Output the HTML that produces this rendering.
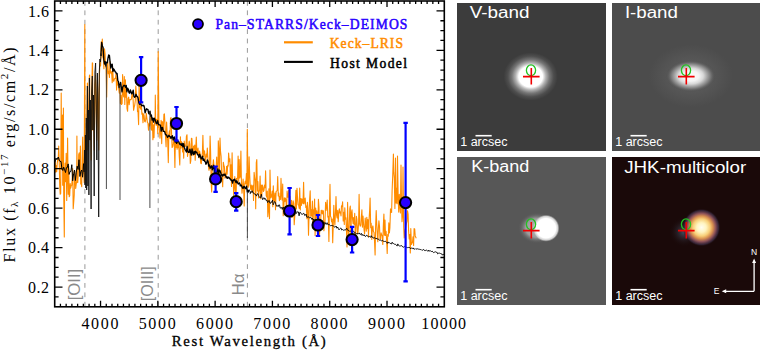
<!DOCTYPE html>
<html><head><meta charset="utf-8"><style>
html,body{margin:0;padding:0;background:#fff;width:760px;height:350px;overflow:hidden}
.chart{position:absolute;left:0;top:0}
.pn{position:absolute;overflow:hidden}
.pn svg{display:block}
</style></head><body>
<svg class="chart" width="760" height="350" viewBox="0 0 760 350">
<g stroke="#9a9a9a" stroke-width="1" stroke-dasharray="4.8 4.6" fill="none">
<path d="M84.9 1V306M158.2 1V306M247.4 1V306"/>
</g>
<g fill="#8a8a8a" font-family="'Liberation Sans', sans-serif" font-size="17">
<text transform="translate(80.3 300.3) rotate(-90)" textLength="31.5" lengthAdjust="spacingAndGlyphs">[OII]</text>
<text transform="translate(153.2 301.3) rotate(-90)" textLength="35" lengthAdjust="spacingAndGlyphs">[OIII]</text>
<text transform="translate(244.4 295.6) rotate(-90)">H&#945;</text>
</g>
<path d="M54.7,172.5 55.2,159.2 55.7,172.1 56.2,165.6 56.7,171.8 57.2,163.5 57.7,159.8 58.2,160.1 58.7,146.0 59.2,160.8 59.7,185.1 60.2,194.3 60.7,193.5 61.2,93.0 61.7,169.1 62.2,148.6 62.5,115.0 62.7,185.3 63.4,108.0 63.7,192.8 64.3,237.0 64.7,173.6 65.2,163.0 65.7,181.7 66.2,153.3 66.7,200.5 67.2,170.0 67.6,138.0 68.2,194.3 68.7,166.1 69.2,196.7 69.7,195.8 70.2,183.5 70.7,188.1 71.2,185.9 71.7,185.3 72.2,178.8 72.7,168.5 73.2,208.8 73.7,202.2 74.2,195.2 74.7,170.6 75.2,176.8 75.7,188.5 76.2,184.1 76.7,181.6 76.9,136.0 77.2,181.0 77.7,182.6 78.2,175.8 78.7,154.6 79.2,152.9 79.7,169.4 80.2,158.4 80.4,146.0 80.7,183.9 81.2,182.1 81.7,186.7 82.2,156.4 82.7,137.1 83.2,173.3 83.7,172.0 84.2,182.5 84.2,175.0 84.8,24.6 85.2,180.0 85.8,140.0 86.3,170.0 86.8,120.0 87.4,83.0 87.9,150.0 88.6,120.0 89.4,75.7 89.7,75.0 90.0,140.0 90.6,110.0 91.2,160.0 91.8,90.0 92.3,62.9 92.6,63.0 92.8,130.0 93.5,100.0 94.2,150.0 94.8,85.0 95.5,75.0 96.1,110.0 96.8,140.0 97.4,80.0 98.0,100.0 98.7,150.0 99.4,75.0 100.0,62.0 100.6,66.0 101.2,41.9 101.8,50.4 102.3,39.0 102.8,57.0 103.4,58.7 103.9,68.7 104.5,48.8 105.1,54.0 105.6,67.1 106.1,65.4 106.7,97.1 107.2,67.9 107.8,62.1 108.3,73.8 108.9,71.4 109.4,77.5 110.0,61.6 110.5,72.3 111.1,73.6 111.6,71.6 112.2,82.6 112.7,67.8 113.3,81.0 113.8,81.2 114.4,79.0 114.9,78.3 115.5,78.4 116.0,73.7 116.6,90.1 117.1,78.6 117.7,85.0 118.2,82.5 118.8,89.5 119.3,93.2 119.9,86.1 120.4,103.6 121.0,95.4 121.5,104.5 122.1,103.4 122.6,74.6 123.2,93.8 123.7,97.0 124.3,76.6 124.8,104.5 125.4,79.8 125.9,97.2 126.5,91.8 127.0,108.5 127.6,111.3 128.1,98.2 128.7,97.2 129.2,104.6 129.8,99.8 130.3,99.6 130.9,99.7 131.4,99.0 132.0,93.5 132.5,94.3 133.1,99.7 133.6,110.3 134.2,106.9 134.7,105.3 135.3,100.8 135.8,86.0 136.4,93.8 136.9,97.0 137.5,111.6 138.0,111.2 138.6,124.6 139.1,84.2 139.7,107.7 140.2,106.6 140.8,109.3 141.3,103.1 141.9,114.2 142.4,113.1 143.0,122.7 143.5,113.7 144.1,115.5 144.6,121.3 145.2,121.9 145.7,119.4 146.3,113.4 146.8,117.9 147.4,122.4 147.9,122.9 148.5,130.1 149.0,123.9 149.6,125.9 150.1,120.9 150.7,113.9 151.2,129.0 151.8,130.2 152.3,117.9 152.9,139.7 153.4,124.9 154.0,137.6 154.5,122.1 155.1,119.5 155.3,95.0 155.6,120.3 156.2,125.5 156.7,119.2 157.3,119.9 157.8,133.7 158.2,51.6 158.9,121.6 159.5,130.5 160.0,138.3 160.6,130.4 161.1,120.2 161.7,143.6 162.2,121.5 162.8,123.6 163.3,131.1 163.9,114.4 164.4,113.8 165.0,124.2 165.5,136.5 166.1,146.8 166.6,122.0 167.2,134.1 167.7,141.3 168.3,162.6 168.8,135.4 169.4,130.8 169.9,138.1 170.5,118.5 171.0,117.6 171.6,133.9 172.1,147.4 172.7,146.6 173.2,143.9 173.8,137.5 174.3,143.1 174.9,167.4 175.4,138.6 176.0,147.4 176.5,138.9 177.1,149.2 177.6,139.8 178.2,147.6 178.7,142.7 179.3,157.0 179.8,164.9 180.4,136.7 180.9,148.2 181.5,141.6 182.0,143.8 182.6,151.9 183.1,145.4 183.7,158.1 184.2,141.0 184.8,145.8 185.3,146.4 185.9,145.9 186.4,136.5 187.0,134.7 187.5,156.4 188.1,152.3 188.6,146.4 189.2,141.0 189.7,144.0 190.3,163.5 190.8,161.0 191.4,138.2 191.9,138.4 192.5,151.8 193.0,155.7 193.6,146.1 194.1,149.3 194.7,145.1 195.2,160.3 195.8,146.6 196.3,137.0 196.9,153.5 197.4,153.3 198.0,148.1 198.5,154.4 199.1,158.0 199.6,151.1 200.2,154.5 200.7,163.2 201.3,163.7 201.8,158.0 202.4,152.5 202.9,135.2 203.5,156.8 204.0,150.4 204.6,151.6 205.1,160.4 205.7,160.1 206.2,154.0 206.8,157.0 207.3,148.0 207.9,158.0 208.4,166.1 209.0,170.3 209.5,168.2 210.1,136.1 210.6,151.7 211.2,183.3 211.7,191.9 212.3,165.2 212.8,167.1 213.4,159.9 213.9,164.7 214.5,167.6 215.0,172.0 215.6,168.8 216.1,168.4 216.7,157.0 217.2,170.9 217.8,182.2 218.3,140.8 218.9,151.2 219.4,175.2 220.0,138.0 220.5,151.1 221.1,156.4 221.6,174.0 222.2,175.6 222.7,186.8 223.3,162.2 223.8,165.1 224.4,166.9 224.9,178.1 225.5,173.0 226.0,176.3 226.6,166.3 227.1,174.2 227.7,165.4 228.2,166.1 228.6,153.0 229.3,161.7 229.9,158.7 230.4,178.7 231.0,164.9 231.5,186.4 232.1,152.8 232.6,178.4 233.2,179.7 233.7,195.3 234.3,187.6 234.8,176.6 235.4,188.6 235.9,204.9 236.5,178.3 237.0,180.2 237.6,177.7 238.1,156.0 238.7,181.8 239.2,159.5 239.8,178.0 240.3,176.6 240.9,151.1 241.4,181.1 242.0,193.2 242.5,187.6 243.1,179.0 243.6,187.3 244.2,205.9 244.7,183.9 245.3,181.2 245.8,184.0 246.4,173.6 246.9,186.2 247.3,129.3 248.0,187.7 248.6,185.3 249.1,156.8 249.7,175.2 250.2,185.2 250.8,189.4 251.3,185.0 251.9,190.9 252.4,186.8 253.0,185.2 253.5,200.5 254.1,172.4 254.6,177.1 255.2,180.9 255.7,208.8 256.3,162.6 256.8,159.6 257.4,190.9 257.9,181.5 258.5,197.9 259.0,191.7 259.6,190.0 260.1,176.0 260.7,198.7 261.2,185.0 261.8,195.6 262.3,185.0 262.9,187.1 263.4,191.4 264.0,190.2 264.5,185.1 265.1,187.8 265.6,170.9 266.2,195.5 266.7,197.2 267.3,191.0 267.8,216.7 268.4,210.5 268.9,188.8 269.5,218.6 270.0,170.0 270.6,197.9 271.1,197.4 271.7,194.7 272.2,191.0 272.8,206.7 273.3,185.9 273.9,199.1 274.4,201.3 275.0,193.1 275.5,209.8 276.1,191.4 276.6,191.2 277.2,190.3 277.7,176.6 278.3,195.9 278.8,193.1 279.4,200.7 279.9,196.6 280.5,199.5 281.0,178.4 281.6,195.0 282.1,200.1 282.7,184.0 283.2,215.8 283.8,206.9 284.3,197.7 284.9,201.4 285.4,198.0 286.0,200.9 286.5,213.5 287.1,191.1 287.6,197.2 288.2,196.9 288.7,190.1 289.3,205.9 289.8,196.4 290.4,208.7 290.9,214.2 291.5,200.3 292.0,217.5 292.6,205.8 293.1,200.7 293.7,203.4 294.2,224.7 294.8,215.7 295.3,203.8 295.9,190.2 296.4,208.9 297.0,188.3 297.5,197.0 298.1,204.7 298.6,204.7 299.2,208.4 299.7,188.0 300.3,210.0 300.8,198.5 301.4,205.4 301.9,198.9 302.5,201.3 303.0,203.7 303.6,182.2 304.1,203.9 304.7,200.7 305.2,198.1 305.8,207.5 306.3,206.0 306.9,218.8 307.4,202.4 308.0,210.6 308.5,235.3 309.1,213.5 309.6,199.7 310.2,190.7 310.7,216.2 311.3,209.7 311.8,216.2 312.4,201.0 312.9,228.1 313.5,209.7 314.0,213.9 314.6,199.0 315.1,235.6 315.7,208.0 316.2,218.0 316.8,210.8 317.3,215.9 317.9,224.3 318.4,199.2 319.0,207.3 319.5,235.2 320.1,221.0 320.6,222.3 321.2,210.2 321.7,210.8 322.3,213.9 322.8,210.4 323.4,211.1 323.9,230.8 324.5,222.4 325.0,221.2 325.6,202.2 326.1,210.5 326.7,206.5 327.2,200.1 327.8,217.1 328.3,216.3 328.9,241.5 329.4,210.3 330.0,184.4 330.5,216.3 331.1,217.6 331.6,221.9 332.2,219.1 332.7,242.7 333.3,224.1 333.8,205.3 334.4,219.9 334.9,225.1 335.5,211.8 336.0,196.5 336.6,215.4 337.1,218.0 337.7,210.2 338.2,221.8 338.8,213.8 339.3,208.7 339.9,212.9 340.4,212.0 341.0,215.9 341.5,205.7 342.1,206.5 342.6,201.7 343.2,221.0 343.7,212.3 344.3,224.4 344.8,207.7 345.4,219.2 345.9,217.7 346.5,231.3 347.0,246.9 347.6,202.4 348.1,227.7 348.7,234.7 349.2,226.8 349.8,208.5 350.3,206.0 350.9,235.0 351.4,213.2 352.0,209.9 352.5,218.8 353.1,223.6 353.6,217.6 354.2,224.4 354.7,213.4 355.3,236.4 355.8,230.1 356.4,216.4 356.9,219.5 357.5,234.0 358.0,231.9 358.6,222.9 359.1,194.4 359.7,224.4 360.2,226.2 360.8,225.3 361.3,218.2 361.9,209.8 362.4,227.1 363.0,216.1 363.5,223.2 364.1,230.2 364.6,234.0 365.2,218.0 365.7,223.9 366.3,231.1 366.8,217.2 367.4,228.8 367.9,219.5 368.5,236.9 369.0,220.9 369.6,211.1 370.1,198.0 370.7,227.7 371.2,223.3 371.8,239.4 372.3,227.7 372.9,225.9 373.4,231.5 374.0,232.4 374.5,240.6 375.1,254.9 375.6,227.3 376.2,210.5 376.7,223.2 377.3,234.5 377.8,241.7 378.4,227.8 378.9,220.7 379.5,226.3 380.0,238.9 380.6,239.1 381.1,232.8 381.7,235.1 382.2,235.2 382.8,244.5 383.3,226.3 383.9,214.1 384.4,235.3 385.0,220.1 385.5,235.4 386.1,231.2 386.6,239.7 387.2,253.5 387.7,234.5 388.3,236.2 388.8,222.9 389.4,233.0 389.9,227.7 390.5,208.9 391.0,212.0 391.6,212.4 392.1,191.3 392.7,176.1 393.4,154.0 393.8,172.4 394.3,178.4 394.9,208.4 395.5,158.0 396.0,202.9 396.5,188.4 397.1,203.8 397.5,156.0 398.2,198.3 398.7,212.1 399.3,194.3 399.8,206.1 400.4,213.0 401.0,165.0 401.5,202.5 402.0,221.7 402.6,215.4 403.0,167.0 403.7,227.0 404.2,237.9 404.8,232.0 405.3,229.7 405.9,225.3 406.4,223.7 407.0,221.1 407.5,210.7 408.1,214.0 408.6,230.9 409.2,239.0 409.7,234.5 410.3,252.9 410.8,228.6 411.4,244.4 411.9,243.3 412.5,242.1 413.0,236.7 413.6,245.5 414.1,228.6 414.7,229.0 415.2,235.9 415.8,237.2 416.3,238.2" fill="none" stroke="#ff8c00" stroke-width="1.1" stroke-linejoin="round"/>
<path d="M54.7,162.5 55.6,159.6 56.5,159.0 57.4,158.6 58.3,157.0 59.2,159.5 60.1,161.6 61.0,161.4 61.9,168.7 62.8,170.5 63.7,167.1 64.6,169.8 65.5,172.5 66.4,167.7 67.3,167.5 68.2,163.9 69.1,174.4 70.0,171.6 70.9,171.3 71.8,164.7 72.7,180.8 73.6,173.8 74.5,170.0 75.4,180.5 76.3,172.1 77.2,166.2 78.1,169.5 79.0,159.7 79.9,176.5 80.8,171.7 81.7,170.0 82.6,177.2 83.5,163.7 84.2,172.0" fill="none" stroke="#000" stroke-width="1" stroke-linejoin="round"/>
<path d="M84.2,172.0 84.6,150.0 85.0,185.0 85.4,135.0 85.8,188.0 86.3,118.0 86.7,190.0 87.4,86.0 87.9,186.0 88.4,110.0 88.9,195.0 89.4,78.0 89.9,140.0 90.4,100.0 91.1,209.0 91.6,92.0 92.3,76.0 92.9,130.0 93.5,95.0 94.2,196.0 94.9,72.0 95.6,63.0 96.2,100.0 96.8,160.0 97.4,73.0 97.9,95.0 98.7,217.0 99.3,72.0 99.9,59.0 100.4,62.0 101.0,56.0 101.0,53.4" fill="none" stroke="#111" stroke-width="0.9" stroke-linejoin="miter" stroke-miterlimit="2"/>
<path d="M101.0,56.0 101.0,53.4 101.7,42.5 102.4,45.9 103.1,47.6 103.8,59.3 104.5,64.0 105.2,61.6 105.9,65.9 106.6,62.3 107.3,62.8 108.0,58.1 108.7,55.0 109.4,55.3 110.1,62.1 110.8,68.1 111.5,64.7 112.2,64.1 112.9,71.5 113.6,68.8 114.3,69.8 115.0,71.6 115.7,72.1 116.4,73.7 117.1,73.4 117.8,80.5 118.5,81.8 119.2,87.6 119.9,85.5 120.6,82.4 121.3,87.2 122.0,91.9 122.7,87.1 123.4,86.0 124.1,85.3 124.8,85.6 125.5,87.3 126.2,85.4 126.9,91.8 127.6,88.2 128.3,89.4 129.0,92.7 129.7,93.2 130.4,90.0 131.1,92.1 131.8,93.9 132.5,92.7 133.2,90.1 133.9,96.3 134.6,97.3 135.3,96.8 136.0,94.3 136.7,96.4 137.4,96.4 138.1,98.1 138.8,102.7 139.5,104.3 140.2,103.6 140.9,104.4 141.6,105.8 142.3,105.3 143.0,105.8 143.7,105.3 144.4,107.3 145.1,112.9 145.8,110.6 146.5,108.8 147.2,109.3 147.9,109.4 148.6,113.0 149.3,114.0 150.0,111.2 150.7,116.2 151.4,115.0 152.1,120.1 152.8,118.1 153.5,122.1 154.2,118.2 154.9,119.3 155.6,121.2 156.3,123.6 157.0,123.4 157.7,120.6 158.4,124.4 159.1,124.9 159.8,124.9 160.5,125.3 161.2,131.1 161.9,127.6 162.6,127.5 163.3,131.4 164.0,131.3 164.7,131.8 165.4,134.4 166.1,134.8 166.8,135.5 167.5,137.3 168.2,136.5 168.9,135.3 169.6,136.4 170.3,136.6 171.0,138.6 171.7,136.6 172.4,135.7 173.1,140.0 173.8,137.7 174.5,137.0 175.2,142.1 175.9,140.5 176.6,143.4 177.3,141.9 178.0,141.3 178.7,141.6 179.4,143.5 180.1,144.5 180.8,143.9 181.5,145.4 182.2,143.3 182.9,146.8 183.6,143.7 184.3,147.2 185.0,149.3 185.7,150.5 186.4,152.1 187.1,146.3 187.8,151.1 188.5,152.4 189.2,152.4 189.9,149.2 190.6,152.0 191.3,155.0 192.0,149.0 192.7,153.0 193.4,154.5 194.1,151.3 194.8,154.0 195.5,151.3 196.2,152.2 196.9,152.6 197.6,154.9 198.3,154.8 199.0,157.2 199.7,154.1 200.4,156.2 201.1,158.9 201.8,158.8 202.5,156.1 203.2,160.4 203.9,159.0 204.6,161.3 205.3,161.8 206.0,164.2 206.7,162.9 207.4,160.0 208.1,161.6 208.8,166.1 209.5,165.0 210.2,168.2 210.9,167.2 211.6,165.9 212.3,169.8 213.0,167.0 213.7,165.3 214.4,173.2 215.1,166.7 215.8,171.6 216.5,172.6 217.2,171.6 217.9,168.8 218.6,173.9 219.3,170.1 220.0,170.6 220.7,172.8 221.4,175.2 222.1,174.8 222.8,176.1 223.5,174.3 224.2,175.2 224.9,174.0 225.6,175.8 226.3,177.8 227.0,176.7 227.7,178.4 228.4,177.1 229.1,177.5 229.8,178.9 230.5,178.9 231.2,180.5 231.9,180.1 232.6,183.0 233.3,180.0 234.0,180.2 234.7,179.1 235.4,181.3 236.1,182.8 236.8,180.8 237.5,182.4 238.2,184.1 238.9,183.1 239.6,182.9 240.3,185.8 241.0,185.0 241.7,186.0 242.4,187.8 243.1,188.4 243.8,186.5 244.5,186.7 245.2,188.6 245.9,188.5 246.6,186.2 247.3,191.9 248.0,190.4 248.7,192.1 249.4,189.6" fill="none" stroke="#000" stroke-width="1.35" stroke-linejoin="round"/>
<path d="M106.4 63.4V189.0M120.0 85.0V200.0M149.9 111.6V208.0M247.4 191.7V238.0" stroke="#3a3a3a" stroke-width="0.9" fill="none"/>
<path d="M250.1,194.1 250.8,191.4 251.5,192.4 252.2,190.7 252.9,192.9 253.6,193.1 254.3,193.4 255.0,194.7 255.7,194.4 256.4,196.1 257.1,194.1 257.8,193.6 258.5,195.4 259.2,196.6 259.9,197.8 260.6,197.6 261.3,194.2 262.0,197.8 262.7,199.7 263.4,198.1 264.1,197.7 264.8,199.3 265.5,198.6 266.2,200.6 266.9,200.1 267.6,202.5 268.3,201.7 269.0,200.4 269.7,202.7 270.4,203.5 271.1,201.8 271.8,202.3 272.5,200.1 273.2,204.8 273.9,203.2 274.6,201.5 275.3,202.3 276.0,204.7 276.7,206.3 277.4,205.6 278.1,206.6 278.8,204.9 279.5,204.9 280.2,208.1 280.9,207.9 281.6,207.5 282.3,209.4 283.0,207.0 283.7,207.9 284.4,210.0 285.1,211.2 285.8,209.2 286.5,211.4 287.2,208.9 287.9,210.2 288.6,209.8 289.3,208.4 290.0,210.7 290.7,211.7 291.4,210.7 292.1,210.9 292.8,212.8 293.5,210.0 294.2,209.9 294.9,211.0 295.6,210.6 296.3,213.5 297.0,212.6 297.7,211.5 298.4,212.0 299.1,215.8 299.8,212.3 300.5,212.4 301.2,213.8 301.9,214.4 302.6,214.3 303.3,213.4 304.0,213.4 304.7,215.5 305.4,215.2 306.1,214.1 306.8,217.2 307.5,217.2 308.2,216.7 308.9,217.1 309.6,218.0 310.3,217.5 311.0,217.4 311.7,219.3 312.4,218.1 313.1,220.2 313.8,219.0 314.5,220.6 315.2,221.0 315.9,222.9 316.6,220.7 317.3,220.7 318.0,221.7 318.7,221.6 319.4,222.3 320.1,223.4 320.8,223.8 321.5,224.6 322.2,222.9 322.9,225.6 323.6,225.3 324.3,223.7 325.0,222.3 325.7,224.1 326.4,224.3 327.1,222.7 327.8,224.6 328.5,224.6 329.2,224.3 329.9,225.4 330.6,225.9 331.3,225.2 332.0,226.0 332.7,225.6 333.4,225.8 334.1,226.7 334.8,227.3 335.5,226.8 336.2,226.0 336.9,228.2 337.6,227.0 338.3,228.4 339.0,229.8 339.7,228.9 340.4,228.3 341.1,228.2 341.8,230.1 342.5,229.5 343.2,230.0 343.9,230.4 344.6,229.9 345.3,229.9 346.0,229.6 346.7,228.3 347.4,229.5 348.1,230.6 348.8,230.6 349.5,231.2 350.2,231.0 350.9,231.4 351.6,232.0 352.3,231.1 353.0,231.7 353.7,231.1 354.4,232.9 355.1,232.6 355.8,233.0 356.5,233.9 357.2,233.8 357.9,233.3 358.6,234.1 359.3,232.9 360.0,234.3 360.7,234.3 361.4,233.4 362.1,235.5 362.8,234.4 363.5,235.5 364.2,235.0 364.9,236.1 365.6,236.5 366.3,235.4 367.0,235.2 367.7,236.2 368.4,237.0 369.1,236.5 369.8,236.6 370.5,237.4 371.2,235.7 371.9,237.2 372.6,237.0 373.3,238.2 374.0,237.8 374.7,237.8 375.4,238.4 376.1,238.0 376.8,239.0 377.5,238.9 378.2,239.2 378.9,239.3 379.6,240.4 380.3,240.0 381.0,240.6 381.7,240.8 382.4,240.3 383.1,241.2 383.8,241.3 384.5,241.5 385.2,241.3 385.9,241.5 386.6,242.4 387.3,243.4 388.0,241.9 388.7,242.9 389.4,242.6 390.1,243.5 390.8,243.5 391.5,244.0 392.2,242.2 392.9,243.5 393.6,243.6 394.3,244.2 395.0,244.1 395.7,244.4 396.4,245.3 397.1,246.1 397.8,243.9 398.5,245.4 399.2,245.9 399.9,246.0 400.6,245.9 401.3,245.6 402.0,245.9 402.7,246.9 403.4,247.2 404.1,246.9 404.8,246.5 405.5,247.1 406.2,247.1 406.9,247.7 407.6,247.6 408.3,247.4 409.0,247.9 409.7,247.4 410.4,248.5 411.1,248.7 411.8,247.7 412.5,248.6 413.2,248.0 413.9,249.1 414.6,249.1 415.3,248.7 416.0,249.4 416.7,248.8 417.4,248.8 418.1,248.9 418.8,249.3 419.5,249.3 420.2,249.6 420.9,249.4 421.6,250.1 422.3,250.3 423.0,249.7 423.7,249.4 424.4,250.5 425.1,250.8 425.8,250.3 426.5,249.9 427.2,250.7 427.9,251.4 428.6,250.0 429.3,251.1 430.0,250.9 430.7,250.8 431.4,251.6 432.1,251.0 432.8,251.9 433.5,252.6 434.2,252.3 434.9,252.0 435.6,251.8 436.3,252.3 437.0,252.2 437.7,253.9 438.4,253.3 439.1,253.1 439.8,253.2 440.5,253.5 441.2,254.0 441.9,253.8 442.6,255.2 443.3,254.4 444.0,254.6" fill="none" stroke="#000" stroke-width="0.9" stroke-linejoin="round"/>
<path d="M141.1 57.2V102.3M138.9 57.2h4.4M138.9 102.3h4.4M176.5 107.0V140.7M174.3 107.0h4.4M174.3 140.7h4.4M215.6 166.5V191.9M213.4 166.5h4.4M213.4 191.9h4.4M236.2 193.1V210.6M234.0 193.1h4.4M234.0 210.6h4.4M289.6 188.0V234.4M287.4 188.0h4.4M287.4 234.4h4.4M318.0 215.0V236.0M315.8 215.0h4.4M315.8 236.0h4.4M352.1 226.8V252.5M349.9 226.8h4.4M349.9 252.5h4.4M405.6 122.8V281.3M403.4 122.8h4.4M403.4 281.3h4.4" stroke="#0000ff" stroke-width="2.2" fill="none"/>
<g fill="#2800ff" stroke="#000" stroke-width="2"><circle cx="141.1" cy="80.3" r="5.6"/><circle cx="176.5" cy="123.5" r="5.6"/><circle cx="215.6" cy="178.9" r="5.6"/><circle cx="236.2" cy="201.7" r="5.6"/><circle cx="289.6" cy="211.0" r="5.6"/><circle cx="318.0" cy="225.0" r="5.6"/><circle cx="352.1" cy="239.6" r="5.6"/><circle cx="405.6" cy="202.6" r="5.6"/></g>
<rect x="54.7" y="1.0" width="389.6" height="305.8" fill="none" stroke="#000" stroke-width="1.6"/>
<path d="M54.7 296.94h3.9M444.3 296.94h-3.9M54.7 287.07h7.8M444.3 287.07h-7.8M54.7 277.21h3.9M444.3 277.21h-3.9M54.7 267.34h3.9M444.3 267.34h-3.9M54.7 257.48h3.9M444.3 257.48h-3.9M54.7 247.61h7.8M444.3 247.61h-7.8M54.7 237.75h3.9M444.3 237.75h-3.9M54.7 227.88h3.9M444.3 227.88h-3.9M54.7 218.02h3.9M444.3 218.02h-3.9M54.7 208.15h7.8M444.3 208.15h-7.8M54.7 198.29h3.9M444.3 198.29h-3.9M54.7 188.43h3.9M444.3 188.43h-3.9M54.7 178.56h3.9M444.3 178.56h-3.9M54.7 168.70h7.8M444.3 168.70h-7.8M54.7 158.83h3.9M444.3 158.83h-3.9M54.7 148.97h3.9M444.3 148.97h-3.9M54.7 139.10h3.9M444.3 139.10h-3.9M54.7 129.24h7.8M444.3 129.24h-7.8M54.7 119.37h3.9M444.3 119.37h-3.9M54.7 109.51h3.9M444.3 109.51h-3.9M54.7 99.65h3.9M444.3 99.65h-3.9M54.7 89.78h7.8M444.3 89.78h-7.8M54.7 79.92h3.9M444.3 79.92h-3.9M54.7 70.05h3.9M444.3 70.05h-3.9M54.7 60.19h3.9M444.3 60.19h-3.9M54.7 50.32h7.8M444.3 50.32h-7.8M54.7 40.46h3.9M444.3 40.46h-3.9M54.7 30.59h3.9M444.3 30.59h-3.9M54.7 20.73h3.9M444.3 20.73h-3.9M54.7 10.86h7.8M444.3 10.86h-7.8M60.43 306.8v-3.05M60.43 1.0v3.05M66.16 306.8v-3.05M66.16 1.0v3.05M71.89 306.8v-3.05M71.89 1.0v3.05M77.62 306.8v-3.05M77.62 1.0v3.05M83.35 306.8v-3.05M83.35 1.0v3.05M89.08 306.8v-3.05M89.08 1.0v3.05M94.81 306.8v-3.05M94.81 1.0v3.05M100.54 306.8v-6.10M100.54 1.0v6.10M106.26 306.8v-3.05M106.26 1.0v3.05M111.99 306.8v-3.05M111.99 1.0v3.05M117.72 306.8v-3.05M117.72 1.0v3.05M123.45 306.8v-3.05M123.45 1.0v3.05M129.18 306.8v-3.05M129.18 1.0v3.05M134.91 306.8v-3.05M134.91 1.0v3.05M140.64 306.8v-3.05M140.64 1.0v3.05M146.37 306.8v-3.05M146.37 1.0v3.05M152.10 306.8v-3.05M152.10 1.0v3.05M157.83 306.8v-6.10M157.83 1.0v6.10M163.56 306.8v-3.05M163.56 1.0v3.05M169.29 306.8v-3.05M169.29 1.0v3.05M175.02 306.8v-3.05M175.02 1.0v3.05M180.75 306.8v-3.05M180.75 1.0v3.05M186.48 306.8v-3.05M186.48 1.0v3.05M192.21 306.8v-3.05M192.21 1.0v3.05M197.94 306.8v-3.05M197.94 1.0v3.05M203.66 306.8v-3.05M203.66 1.0v3.05M209.39 306.8v-3.05M209.39 1.0v3.05M215.12 306.8v-6.10M215.12 1.0v6.10M220.85 306.8v-3.05M220.85 1.0v3.05M226.58 306.8v-3.05M226.58 1.0v3.05M232.31 306.8v-3.05M232.31 1.0v3.05M238.04 306.8v-3.05M238.04 1.0v3.05M243.77 306.8v-3.05M243.77 1.0v3.05M249.50 306.8v-3.05M249.50 1.0v3.05M255.23 306.8v-3.05M255.23 1.0v3.05M260.96 306.8v-3.05M260.96 1.0v3.05M266.69 306.8v-3.05M266.69 1.0v3.05M272.42 306.8v-6.10M272.42 1.0v6.10M278.15 306.8v-3.05M278.15 1.0v3.05M283.88 306.8v-3.05M283.88 1.0v3.05M289.61 306.8v-3.05M289.61 1.0v3.05M295.34 306.8v-3.05M295.34 1.0v3.05M301.06 306.8v-3.05M301.06 1.0v3.05M306.79 306.8v-3.05M306.79 1.0v3.05M312.52 306.8v-3.05M312.52 1.0v3.05M318.25 306.8v-3.05M318.25 1.0v3.05M323.98 306.8v-3.05M323.98 1.0v3.05M329.71 306.8v-6.10M329.71 1.0v6.10M335.44 306.8v-3.05M335.44 1.0v3.05M341.17 306.8v-3.05M341.17 1.0v3.05M346.90 306.8v-3.05M346.90 1.0v3.05M352.63 306.8v-3.05M352.63 1.0v3.05M358.36 306.8v-3.05M358.36 1.0v3.05M364.09 306.8v-3.05M364.09 1.0v3.05M369.82 306.8v-3.05M369.82 1.0v3.05M375.55 306.8v-3.05M375.55 1.0v3.05M381.28 306.8v-3.05M381.28 1.0v3.05M387.01 306.8v-6.10M387.01 1.0v6.10M392.74 306.8v-3.05M392.74 1.0v3.05M398.46 306.8v-3.05M398.46 1.0v3.05M404.19 306.8v-3.05M404.19 1.0v3.05M409.92 306.8v-3.05M409.92 1.0v3.05M415.65 306.8v-3.05M415.65 1.0v3.05M421.38 306.8v-3.05M421.38 1.0v3.05M427.11 306.8v-3.05M427.11 1.0v3.05M432.84 306.8v-3.05M432.84 1.0v3.05M438.57 306.8v-3.05M438.57 1.0v3.05" stroke="#000" stroke-width="1.3" fill="none"/>
<g font-family="'Liberation Serif', serif" font-size="16" fill="#000"><text x="49" y="16.5" text-anchor="end" textLength="21" lengthAdjust="spacing">1.6</text><text x="49" y="55.9" text-anchor="end" textLength="21" lengthAdjust="spacing">1.4</text><text x="49" y="95.4" text-anchor="end" textLength="21" lengthAdjust="spacing">1.2</text><text x="49" y="134.8" text-anchor="end" textLength="21" lengthAdjust="spacing">1.0</text><text x="49" y="174.3" text-anchor="end" textLength="21" lengthAdjust="spacing">0.8</text><text x="49" y="213.8" text-anchor="end" textLength="21" lengthAdjust="spacing">0.6</text><text x="49" y="253.2" text-anchor="end" textLength="21" lengthAdjust="spacing">0.4</text><text x="49" y="292.7" text-anchor="end" textLength="21" lengthAdjust="spacing">0.2</text><text x="99.9" y="328.7" text-anchor="middle" textLength="37.0" lengthAdjust="spacing">4000</text><text x="157.2" y="328.7" text-anchor="middle" textLength="37.0" lengthAdjust="spacing">5000</text><text x="214.5" y="328.7" text-anchor="middle" textLength="37.0" lengthAdjust="spacing">6000</text><text x="271.8" y="328.7" text-anchor="middle" textLength="37.0" lengthAdjust="spacing">7000</text><text x="329.1" y="328.7" text-anchor="middle" textLength="37.0" lengthAdjust="spacing">8000</text><text x="386.4" y="328.7" text-anchor="middle" textLength="37.0" lengthAdjust="spacing">9000</text><text x="443.7" y="328.7" text-anchor="middle" textLength="44.8" lengthAdjust="spacing">10000</text></g>
<circle cx="198" cy="24.1" r="5" fill="#2800ff" stroke="#000" stroke-width="1.8"/>
<path d="M284 42.3H312.8" stroke="#ff8c00" stroke-width="2.2"/>
<path d="M284 61.9H312.8" stroke="#000" stroke-width="2.1"/>
<g font-family="'Liberation Serif', serif" font-size="13.6" stroke-width="0.5">
<text x="215.4" y="28.9" fill="#2800ff" stroke="#2800ff" textLength="192" lengthAdjust="spacing">Pan&#8211;STARRS/Keck&#8211;DEIMOS</text>
<text x="329.7" y="48.4" fill="#ff8c00" stroke="#ff8c00" textLength="73.3" lengthAdjust="spacing">Keck&#8211;LRIS</text>
<text x="330" y="68.1" fill="#000" stroke="#000" textLength="77" lengthAdjust="spacing">Host Model</text>
</g>
<g font-family="'Liberation Serif', serif" font-size="13.6" fill="#000">
<text x="171.8" y="345.9" font-size="14.8" stroke="#000" stroke-width="0.3" textLength="154" lengthAdjust="spacing">Rest Wavelength (&#197;)</text>
<text transform="translate(14.6 262.4) rotate(-90)" font-size="16" textLength="215" lengthAdjust="spacing">Flux (f<tspan font-size="11" dy="3">&#955;</tspan><tspan dy="-3"> 10</tspan><tspan font-size="11" dy="-6.5">&#8722;17</tspan><tspan dy="6.5"> erg/s/cm</tspan><tspan font-size="11" dy="-6.5">2</tspan><tspan dy="6.5">/&#197;)</tspan></text>
</g>
</svg>
<div class="pn v" style="left:457px;top:3px;width:148.7px;height:147.6px"><svg width="149" height="148" viewBox="0 0 149 148">
<defs><radialGradient id="gv" cx="73.7" cy="73.5" r="25" gradientUnits="userSpaceOnUse" gradientTransform="translate(73.7 73.5) scale(1.08 0.96) translate(-73.7 -73.5)">
<stop offset="0" stop-color="#fff"/><stop offset="0.44" stop-color="#fff"/><stop offset="0.56" stop-color="#b4b4b4"/><stop offset="0.7" stop-color="#767676"/><stop offset="0.85" stop-color="#4e4e4e"/><stop offset="1" stop-color="#3c3c3c"/></radialGradient></defs>
<rect width="149" height="148" fill="url(#gv)"/>
<ellipse cx="74" cy="67.3" rx="4.6" ry="5.4" fill="none" stroke="#22c322" stroke-width="1.3"/>
<path d="M66 73.6h16.6M74.3 65v16.6" stroke="#f00000" stroke-width="1.6"/>
<text x="12.8" y="15.4" fill="#fff" font-family="'Liberation Sans', sans-serif" font-size="17.3" textLength="59.8" lengthAdjust="spacingAndGlyphs">V-band</text>
<path d="M18.5 132.7h16.2" stroke="#fff" stroke-width="1.6"/>
<text x="3.2" y="143.1" fill="#fff" font-family="'Liberation Sans', sans-serif" font-size="12" textLength="47.4" lengthAdjust="spacingAndGlyphs">1 arcsec</text>
</svg></div>
<div class="pn i" style="left:611.8px;top:3px;width:148.2px;height:147.6px"><svg width="149" height="148" viewBox="0 0 149 148">
<defs><radialGradient id="gi" cx="78.8" cy="73" r="25" gradientUnits="userSpaceOnUse" gradientTransform="translate(78.8 73) scale(1 0.64) translate(-78.8 -73)">
<stop offset="0" stop-color="#fcfcfc"/><stop offset="0.32" stop-color="#f4f4f4"/><stop offset="0.5" stop-color="#d8d8d8"/><stop offset="0.66" stop-color="#a2a2a2"/><stop offset="0.83" stop-color="#6c6c6c"/><stop offset="1" stop-color="#4c4c4c" stop-opacity="0"/></radialGradient>
<radialGradient id="gi2" cx="79" cy="73" r="42" gradientUnits="userSpaceOnUse" gradientTransform="translate(79 73) scale(1 0.75) translate(-79 -73)">
<stop offset="0" stop-color="#6a6a6a"/><stop offset="0.5" stop-color="#575757"/><stop offset="1" stop-color="#4c4c4c"/></radialGradient></defs>
<rect width="149" height="148" fill="url(#gi2)"/>
<rect width="149" height="148" fill="url(#gi)"/>
<ellipse cx="74" cy="67.3" rx="4.6" ry="5.4" fill="none" stroke="#22c322" stroke-width="1.3"/>
<path d="M66 73.6h16.6M74.3 65v16.6" stroke="#f00000" stroke-width="1.6"/>
<text x="12.9" y="15.1" fill="#fff" font-family="'Liberation Sans', sans-serif" font-size="17.3" textLength="53" lengthAdjust="spacingAndGlyphs">I-band</text>
<path d="M18.5 132.7h16.2" stroke="#fff" stroke-width="1.6"/>
<text x="3.2" y="143.1" fill="#fff" font-family="'Liberation Sans', sans-serif" font-size="12" textLength="47.4" lengthAdjust="spacingAndGlyphs">1 arcsec</text>
</svg></div>
<div class="pn k" style="left:457px;top:157.1px;width:148.7px;height:147.5px"><svg width="149" height="148" viewBox="0 0 149 148">
<defs><radialGradient id="gk" cx="89" cy="71.2" r="13.5" gradientUnits="userSpaceOnUse">
<stop offset="0" stop-color="#fff"/><stop offset="0.72" stop-color="#fff"/><stop offset="0.88" stop-color="#d0d0d0"/><stop offset="1" stop-color="#a0a0a0" stop-opacity="0"/></radialGradient>
<radialGradient id="gk2" cx="80" cy="71" r="19" gradientUnits="userSpaceOnUse" gradientTransform="translate(80 71) scale(1 0.82) translate(-80 -71)">
<stop offset="0" stop-color="#b8b8b8"/><stop offset="0.6" stop-color="#9c9c9c"/><stop offset="1" stop-color="#575757" stop-opacity="0"/></radialGradient></defs>
<rect width="149" height="148" fill="#575757"/>
<rect width="149" height="148" fill="url(#gk2)"/>
<rect width="149" height="148" fill="url(#gk)"/>
<ellipse cx="74" cy="67.3" rx="4.6" ry="5.4" fill="none" stroke="#22c322" stroke-width="1.3"/>
<path d="M66 73.6h16.6M74.3 65v16.6" stroke="#f00000" stroke-width="1.6"/>
<text x="14.2" y="15.2" fill="#fff" font-family="'Liberation Sans', sans-serif" font-size="17.3" textLength="58.2" lengthAdjust="spacingAndGlyphs">K-band</text>
<path d="M18.5 132.7h16.2" stroke="#fff" stroke-width="1.6"/>
<text x="3.2" y="143.1" fill="#fff" font-family="'Liberation Sans', sans-serif" font-size="12" textLength="47.4" lengthAdjust="spacingAndGlyphs">1 arcsec</text>
</svg></div>
<div class="pn j" style="left:611.8px;top:157.1px;width:148.2px;height:147.5px"><svg width="149" height="148" viewBox="0 0 149 148">
<defs><radialGradient id="gj" cx="89.5" cy="70.5" r="19" gradientUnits="userSpaceOnUse">
<stop offset="0" stop-color="#fffdf0"/><stop offset="0.25" stop-color="#fff4c0"/><stop offset="0.45" stop-color="#f8cf78"/><stop offset="0.6" stop-color="#d89050"/><stop offset="0.75" stop-color="#8a5058"/><stop offset="0.9" stop-color="#3a2a40" stop-opacity="0.8"/><stop offset="1" stop-color="#1a0909" stop-opacity="0"/></radialGradient>
<radialGradient id="gj2" cx="72" cy="75" r="15" gradientUnits="userSpaceOnUse">
<stop offset="0" stop-color="#506078" stop-opacity="0.8"/><stop offset="1" stop-color="#1a0909" stop-opacity="0"/></radialGradient></defs>
<rect width="149" height="148" fill="#1a0909"/>
<rect width="149" height="148" fill="url(#gj2)"/>
<rect width="149" height="148" fill="url(#gj)"/>
<ellipse cx="74" cy="67.3" rx="4.6" ry="5.4" fill="none" stroke="#22c322" stroke-width="1.3"/>
<path d="M66 73.6h16.6M74.3 65v16.6" stroke="#f00000" stroke-width="1.6"/>
<text x="12.2" y="15.8" fill="#fff" font-family="'Liberation Sans', sans-serif" font-size="17.3" textLength="122" lengthAdjust="spacingAndGlyphs">JHK-multicolor</text>
<path d="M18.5 132.7h16.2" stroke="#fff" stroke-width="1.6"/>
<text x="3.2" y="143.1" fill="#fff" font-family="'Liberation Sans', sans-serif" font-size="12" textLength="47.4" lengthAdjust="spacingAndGlyphs">1 arcsec</text>
<path d="M142.1 134.3V104.5M142.1 134.3H112" stroke="#fff" stroke-width="1.3" fill="none"/>
<path d="M142.1 101.5l-2 4.5h4zM109.7 134.3l4.5 -2v4z" fill="#fff"/>
<text x="142.1" y="98.4" fill="#fff" font-family="'Liberation Sans', sans-serif" font-size="8.5" text-anchor="middle">N</text>
<text x="104.5" y="137.3" fill="#fff" font-family="'Liberation Sans', sans-serif" font-size="8.5" text-anchor="middle">E</text>
</svg></div>
</body></html>
